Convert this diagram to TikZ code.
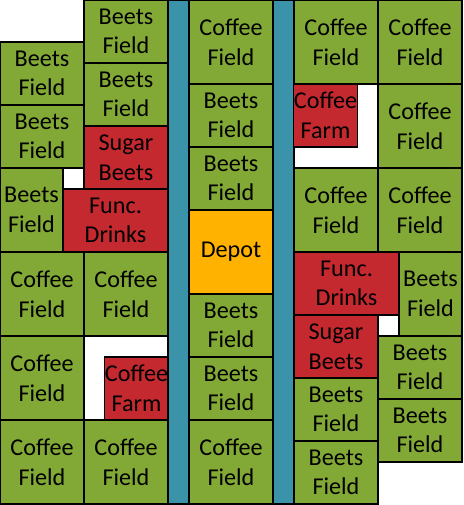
\documentclass[tikz,border=0pt]{standalone}
\usepackage{fontspec}
\setmainfont{Carlito}
\definecolor{fgreen}{HTML}{82A935}
\definecolor{fred}{HTML}{C4292F}
\definecolor{fteal}{HTML}{3A93A8}
\definecolor{fgold}{HTML}{FFB300}
\tikzset{
  blk/.style={draw=black, line width=0.7pt, inner sep=0pt, outer sep=0pt, align=center,
    font=\fontsize{16.3}{20}\selectfont, text=black},
  grn/.style={blk, fill=fgreen},
  rd/.style={blk, fill=fred},
  tl/.style={blk, fill=fteal},
  gd/.style={blk, fill=fgold},
}
\newcommand\blk[7]{\node[#6, minimum width={(#4-#2)*0.675pt}, minimum height={(#5-#3)*0.675pt}] (#1) at ({(#2+#4)/2},{(#3+#5)/2}) {#7};}
\begin{document}
\begin{tikzpicture}[x=0.675pt, y=-0.675pt]
\useasboundingbox (0,0) rectangle (463,505);
% left block
\blk{b1}{0}{42}{84}{105}{grn}{Beets\\Field}
\blk{b2}{0}{105}{84}{168}{grn}{Beets\\Field}
\blk{b3}{0}{168}{63}{252}{grn}{Beets\\Field}
\blk{fd1}{63}{189}{168}{252}{rd}{Func.\\Drinks}
\blk{b4}{84}{0}{168}{63}{grn}{Beets\\Field}
\blk{b5}{84}{63}{168}{126}{grn}{Beets\\Field}
\blk{sb1}{84}{126}{168}{189}{rd}{Sugar\\Beets}
\blk{c1}{0}{252}{84}{336}{grn}{Coffee\\Field}
\blk{c2}{84}{252}{168}{336}{grn}{Coffee\\Field}
\blk{c3}{0}{336}{84}{420}{grn}{Coffee\\Field}
\blk{cf1}{105}{357}{168}{420}{rd}{Coffee\\Farm}
\blk{c4}{0}{420}{84}{504}{grn}{Coffee\\Field}
\blk{c5}{84}{420}{168}{504}{grn}{Coffee\\Field}
% roads
\blk{road1}{168}{0}{189}{504}{tl}{}
\blk{road2}{273}{0}{294}{504}{tl}{}
% middle
\blk{c6}{189}{0}{273}{84}{grn}{Coffee\\Field}
\blk{b6}{189}{84}{273}{147}{grn}{Beets\\Field}
\blk{b7}{189}{147}{273}{210}{grn}{Beets\\Field}
\blk{depot}{189}{210}{273}{294}{gd}{Depot}
\blk{b8}{189}{294}{273}{357}{grn}{Beets\\Field}
\blk{b9}{189}{357}{273}{420}{grn}{Beets\\Field}
\blk{c7}{189}{420}{273}{504}{grn}{Coffee\\Field}
% right block
\blk{c8}{294}{0}{378}{84}{grn}{Coffee\\Field}
\blk{c9}{378}{0}{462}{84}{grn}{Coffee\\Field}
\blk{cf2}{294}{84}{357}{147}{rd}{Coffee\\Farm}
\blk{c10}{378}{84}{462}{168}{grn}{Coffee\\Field}
\blk{c11}{294}{168}{378}{252}{grn}{Coffee\\Field}
\blk{c12}{378}{168}{462}{252}{grn}{Coffee\\Field}
\blk{fd2}{294}{252}{399}{315}{rd}{Func.\\Drinks}
\blk{b10}{399}{252}{462}{336}{grn}{Beets\\Field}
\blk{sb2}{294}{315}{378}{378}{rd}{Sugar\\Beets}
\blk{b11}{378}{336}{462}{399}{grn}{Beets\\Field}
\blk{b12}{378}{399}{462}{462}{grn}{Beets\\Field}
\blk{b13}{294}{378}{378}{441}{grn}{Beets\\Field}
\blk{b14}{294}{441}{378}{504}{grn}{Beets\\Field}
\end{tikzpicture}
\end{document}
